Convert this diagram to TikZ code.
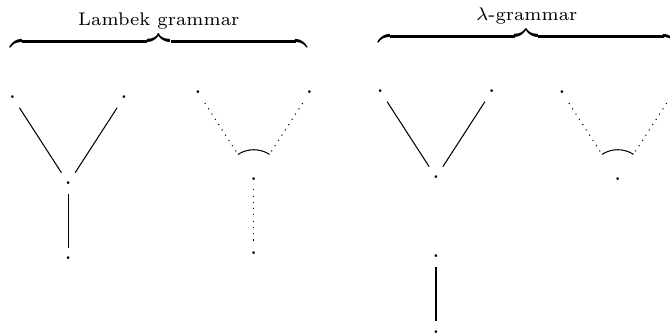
\documentclass[tikz,border=0pt]{standalone}
\usepackage{amsmath}
\usetikzlibrary{positioning,angles}
\tikzset{
  vertex/.style = {font=\normalsize},
  gap/.style = {dotted, shorten >=0.2cm},
  grammar/.style = {anchor=base, inner sep=0pt},
}

\begin{document}
\begin{tikzpicture}[on grid, node distance=1.16cm and 0.75cm]
\useasboundingbox (0,0) rectangle (9.017,4.495);
% Lambek grammar
\node [vertex] (m1) at (0.919,2.028) {.};
\node [vertex] (l1) [above left=of m1] {.};
\node [vertex] (r1) [above right=of m1] {.};
\node [vertex] (b1) [below=1.01cm of m1] {.};
\draw (m1) -- (l1);
\draw (m1) -- (r1);
\draw (m1) -- (b1);

\node [vertex] (m2) at (3.415,2.090) {.};
\node [vertex] (l2) [above left=of m2] {.};
\node [vertex] (r2) [above right=of m2] {.};
\node [vertex] (b2) [below=1.004cm of m2] {.};
\draw [gap] (l2) -- (m2);
\draw [gap] (r2) -- (m2);
\draw [dotted] (m2) -- (b2);
\pic [draw, angle radius=0.39cm] {angle = r2--m2--l2};

% lambda-grammar
\node [vertex] (m3) at (5.868,2.109) {.};
\node [vertex] (l3) [above left=of m3] {.};
\node [vertex] (r3) [above right=of m3] {.};
\node [vertex] (c3) [below=1.059cm of m3] {.};
\node [vertex] (b3) [below=1.019cm of c3] {.};
\draw (m3) -- (l3);
\draw (m3) -- (r3);
\draw (c3) -- (b3);

\node [vertex] (m4) at (8.314,2.090) {.};
\node [vertex] (l4) [above left=of m4] {.};
\node [vertex] (r4) [above right=of m4] {.};
\draw [gap] (l4) -- (m4);
\draw [gap] (r4) -- (m4);
\pic [draw, angle radius=0.39cm] {angle = r4--m4--l4};

% braces
\node [grammar] (lam) at (2.137,3.815)
  {$\overbrace{\hspace{4cm}}^{\text{Lambek grammar}}$};
\node [grammar] (lgr) at (7.089,3.883)
  {$\overbrace{\hspace{4cm}}^{\text{$\lambda$-grammar}}$};
\end{tikzpicture}
\end{document}
